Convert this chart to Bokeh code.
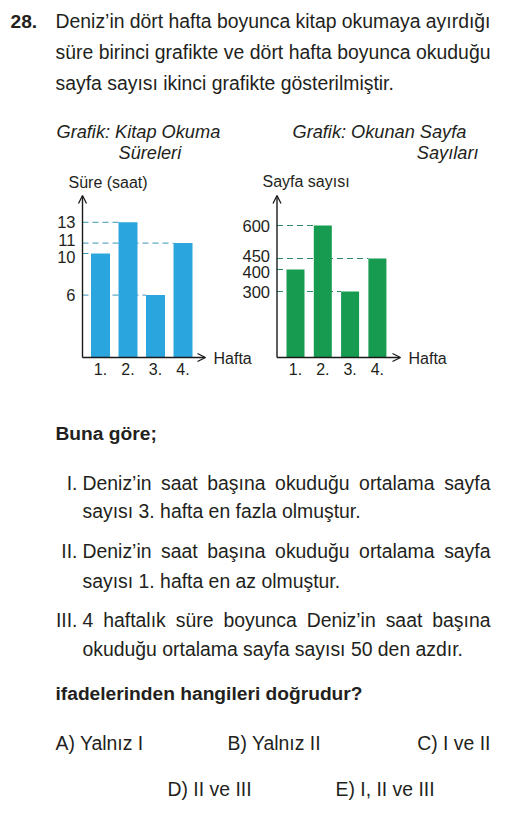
import glob
import os

from bokeh.plotting import figure
from bokeh.models import Range1d, LinearAxis, FixedTicker, Arrow, OpenHead
from bokeh.core.properties import value
from bokeh.embed import file_html
from bokeh.resources import INLINE

# ---------------- data ----------------
weeks = [1, 2, 3, 4]
week_labels = ["1.", "2.", "3.", "4."]
hours = [10, 13, 6, 11]            # Süre (saat)
pages = [400, 600, 300, 450]       # Sayfa sayısı
hour_ticks = [6, 10, 11, 13]
page_ticks = [300, 400, 450, 600]

# ---------------- texts ----------------
question_no = "28."
intro_lines = [
    "Deniz’in dört hafta boyunca kitap okumaya ayırdığı",
    "süre birinci grafikte ve dört hafta boyunca okuduğu",
    "sayfa sayısı ikinci grafikte gösterilmiştir.",
]
title1 = ["Grafik: Kitap Okuma", "Süreleri"]
title2 = ["Grafik: Okunan Sayfa", "Sayıları"]
ylabel1 = "Süre (saat)"
ylabel2 = "Sayfa sayısı"
xlabel = "Hafta"
lead = "Buna göre;"
statements = [
    ("I.", ["Deniz’in saat başına okuduğu ortalama sayfa",
            "sayısı 3. hafta en fazla olmuştur."]),
    ("II.", ["Deniz’in saat başına okuduğu ortalama sayfa",
             "sayısı 1. hafta en az olmuştur."]),
    ("III.", ["4 haftalık süre boyunca Deniz’in saat başına",
              "okuduğu ortalama sayfa sayısı 50 den azdır."]),
]
question = "ifadelerinden hangileri doğrudur?"
options = ["A) Yalnız I", "B) Yalnız II", "C) I ve II", "D) II ve III", "E) I, II ve III"]

# ---------------- style ----------------
FONT = "Liberation Sans"
INK = "#231f20"
AX = "#1a1a1a"
BLUE = "#2aa5de"
GREEN = "#169b50"
DASH1 = "#3a94b8"
DASH2 = "#2f8a63"
BODY = 19.4
BOLD = 19.2
TICK = 16.5
W, H = 529, 815

# ---------------- text measuring (for justified lines) ----------------
try:
    from PIL import ImageFont
except Exception:
    ImageFont = None


def _find_font(name):
    for root in ["/usr/share/fonts", "/usr/local/share/fonts", os.path.expanduser("~/.fonts")]:
        hits = glob.glob(os.path.join(root, "**", name), recursive=True)
        if hits:
            return hits[0]
    return None


_fcache = {}


def text_width(s, size, bold=False):
    if bold not in _fcache:
        f = None
        path = _find_font("LiberationSans-Bold.ttf" if bold else "LiberationSans-Regular.ttf")
        if ImageFont is not None and path:
            try:
                f = ImageFont.truetype(path, 100)
            except Exception:
                f = None
        _fcache[bold] = f
    f = _fcache[bold]
    if f is not None:
        return f.getlength(s) * size / 100.0
    return len(s) * size * 0.47


def justify(line, x0, x1, size):
    words = line.split(" ")
    widths = [text_width(w, size) for w in words]
    gap = (x1 - x0 - sum(widths)) / (len(words) - 1)
    gap = max(gap, size * 0.25)
    xs, x = [], x0
    for wd in widths:
        xs.append(x)
        x += wd + gap
    return words, xs


def spread_offsets(vals, scale, base, min_gap):
    """Screen offsets that push apart tick labels lying closer than min_gap."""
    pos = [base - v * scale for v in vals]
    new = list(pos)
    order = sorted(range(len(vals)), key=lambda i: pos[i])
    for a, b in zip(order[:-1], order[1:]):
        gap = new[b] - new[a]
        if gap < min_gap:
            d = (min_gap - gap) / 2
            new[a] -= d
            new[b] += d
    return [n - o for n, o in zip(new, pos)]


# ---------------- page figure (page-pixel coordinates) ----------------
p = figure(width=W, height=H, x_range=Range1d(0, W), y_range=Range1d(H, 0),
           output_backend="svg", toolbar_location=None, min_border=0,
           x_axis_location=None, y_axis_location=None)
p.grid.visible = False
p.outline_line_color = None
p.background_fill_color = "white"
p.border_fill_color = "white"


def put(xs, ys, texts, size, style="normal", align="left"):
    p.text(x=xs, y=ys, text=texts, text_font=value(FONT), text_font_size=f"{size}px",
           text_font_style=style, text_align=align, text_baseline="middle",
           text_color=INK)


# ---------------- chart layout (page pixels) ----------------
BASE_Y = 357          # page y of the value 0
TIP_Y = 195           # page y of the y-arrow tips
S1X, S1Y = 27.5, 10.4   # px per week / px per hour
S2X, S2Y = 27.3, 0.22   # px per week / px per page
C1_W1, C2_W1 = 100.0, 295.0    # page x of week 1
C1_AX, C2_AX = 82.0, 276.5     # page x of the y axes
C1_TIPX, C2_TIPX = 205.0, 400.0
BW1, BW2 = 19 / S1X, 18 / S2X

p.extra_x_ranges = {
    "c1x": Range1d(1 - C1_W1 / S1X, 1 + (W - C1_W1) / S1X),
    "c2x": Range1d(1 - C2_W1 / S2X, 1 + (W - C2_W1) / S2X),
}
p.extra_y_ranges = {
    "c1y": Range1d(-(H - BASE_Y) / S1Y, BASE_Y / S1Y),
    "c2y": Range1d(-(H - BASE_Y) / S2Y, BASE_Y / S2Y),
}
R1 = dict(x_range_name="c1x", y_range_name="c1y")
R2 = dict(x_range_name="c2x", y_range_name="c2y")

ax1 = 1 - (C1_W1 - C1_AX) / S1X
ax2 = 1 - (C2_W1 - C2_AX) / S2X
tip1y = (BASE_Y - TIP_Y) / S1Y
tip2y = (BASE_Y - TIP_Y) / S2Y
tip1x = 1 + (C1_TIPX - C1_W1) / S1X
tip2x = 1 + (C2_TIPX - C2_W1) / S2X

# dashed guide lines from the axis to each bar
p.segment(x0=[ax1] * len(weeks), y0=hours, x1=[w - BW1 / 2 for w in weeks], y1=hours,
          line_color=DASH1, line_width=1, line_dash="6 4", **R1)
p.segment(x0=[ax2] * len(weeks), y0=pages, x1=[w - BW2 / 2 for w in weeks], y1=pages,
          line_color=DASH2, line_width=1, line_dash="6 4", **R2)

# bars
p.vbar(x=weeks, top=hours, bottom=0, width=BW1, fill_color=BLUE, line_color=None, **R1)
p.vbar(x=weeks, top=pages, bottom=0, width=BW2, fill_color=GREEN, line_color=None, **R2)

# axis arrows
for (xs, ys, xe, ye, rr) in [
    (ax1, 0, ax1, tip1y, R1),
    (ax1, 0, tip1x, 0, R1),
    (ax2, 0, ax2, tip2y, R2),
    (ax2, 0, tip2x, 0, R2),
]:
    p.add_layout(Arrow(end=OpenHead(size=8, line_width=1.3, line_color=AX),
                       x_start=xs, y_start=ys, x_end=xe, y_end=ye,
                       line_width=1.4, line_color=AX, **rr))

# "Hafta" labels at the x-arrow tips
for tx, rr in [(tip1x, R1), (tip2x, R2)]:
    p.text(x=[tx], y=[0], text=[xlabel], x_offset=8, y_offset=1,
           text_font=value(FONT), text_font_size="16px", text_baseline="middle",
           text_color=INK, **rr)

# y tick labels (placed at the tick values, pushed apart where they would collide)
for ticks, ax, scale, rr, std in [(hour_ticks, ax1, S1Y, R1, 7), (page_ticks, ax2, S2Y, R2, 7)]:
    offs = spread_offsets(ticks, scale, BASE_Y, TICK)
    p.text(x=[ax] * len(ticks), y=ticks, text=[str(t) for t in ticks],
           x_offset=-std, y_offset=offs, text_align="right", text_baseline="middle",
           text_font=value(FONT), text_font_size=f"{TICK}px", text_color=INK, **rr)


def style_axis(a, size, standoff):
    a.axis_line_color = None
    a.major_tick_line_color = None
    a.minor_tick_line_color = None
    a.major_tick_out = 0
    a.major_tick_in = 0
    a.major_label_text_font = FONT
    a.major_label_text_font_size = f"{size}px"
    a.major_label_text_color = INK
    a.major_label_standoff = standoff


# x axes (week categories) at the zero line of each chart
x1 = LinearAxis(ticker=FixedTicker(ticks=weeks), fixed_location=0,
                major_label_overrides=dict(zip(weeks, week_labels)), **R1)
x2 = LinearAxis(ticker=FixedTicker(ticks=weeks), fixed_location=0,
                major_label_overrides=dict(zip(weeks, week_labels)), **R2)
for a in (x1, x2):
    style_axis(a, 16, 5)
p.add_layout(x1, "below")
p.add_layout(x2, "below")

# ---------------- texts ----------------
put([10], [20.5], [question_no], BOLD, "bold")
for (line, yc) in zip(intro_lines[:2], [20.5, 51.5]):
    ws, xs = justify(line, 55, 490, BODY)
    put(xs, [yc] * len(ws), ws, BODY)
put([55], [82.5], [intro_lines[2]], BODY)
put([56, 118, 292], [131, 152, 131], [title1[0], title1[1], title2[0]], 18.2, "italic")
put([478], [152], [title2[1]], 18.2, "italic", "right")
put([68, 262], [181.5, 181], [ylabel1, ylabel2], 16)

put([55], [433], [lead], BOLD, "bold")
item_centers = [(482, 510), (550, 580), (619, 648)]
for (num, lines), (c1, c2) in zip(statements, item_centers):
    put([77], [c1], [num], BODY, "normal", "right")
    ws, xs = justify(lines[0], 82, 490, BODY)
    put(xs, [c1] * len(ws), ws, BODY)
    put([82], [c2], [lines[1]], BODY)
put([55], [693], [question], BOLD, "bold")
put([55, 227, 167, 335], [742, 742, 788, 788],
    [options[0], options[1], options[3], options[4]], BODY)
put([490], [742], [options[2]], BODY, "normal", "right")

open("out.html", "w").write(file_html(p, INLINE))
